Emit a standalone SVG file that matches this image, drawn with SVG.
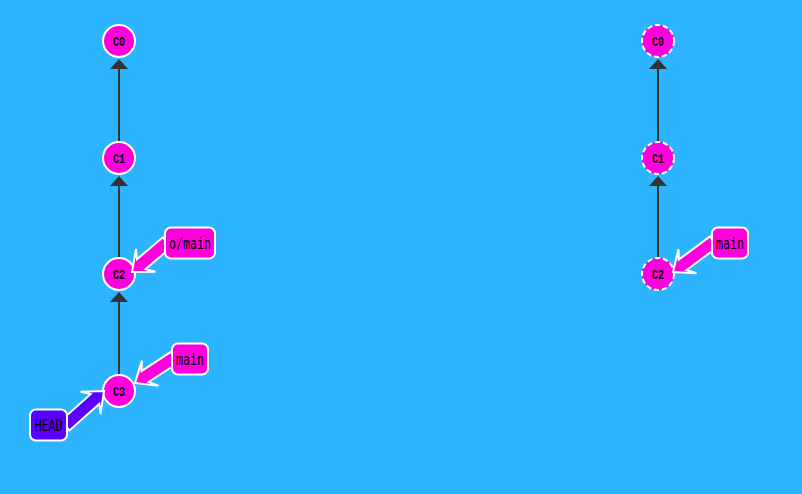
<svg xmlns="http://www.w3.org/2000/svg" width="802" height="494" viewBox="0 0 802 494">
<style>
.edge{stroke:#333;stroke-width:2;fill:none}
.head{fill:#333}
.commit{fill:#ff00dd;stroke:#fff;stroke-width:2}
.ghost{fill:#ff00dd;stroke:#fff;stroke-width:2;stroke-dasharray:5 3}
.ct{font-family:"Liberation Mono","DejaVu Sans Mono",monospace;font-weight:bold;font-size:12px;fill:#000;text-anchor:middle}
.br{fill:#ff00dd;stroke:#fff;stroke-width:2}
.hd{fill:#5a00ff;stroke:#fff;stroke-width:2}
.bt{font-family:"DejaVu Sans Mono","Liberation Mono",monospace;font-size:15px;fill:#000;text-anchor:middle}
</style>
<rect width="802" height="494" fill="#2cb4fe"/>
<g id="connectors">
<line class="edge" x1="119" y1="142" x2="119" y2="66"/>
<polygon class="head" points="119,59 110,69 128,69"/>
<line class="edge" x1="119" y1="258" x2="119" y2="183"/>
<polygon class="head" points="119,176 110,186 128,186"/>
<line class="edge" x1="119" y1="375" x2="119" y2="299"/>
<polygon class="head" points="119,292 110,302 128,302"/>
<line class="edge" x1="658" y1="142" x2="658" y2="66"/>
<polygon class="head" points="658,59 649,69 667,69"/>
<line class="edge" x1="658" y1="258" x2="658" y2="183"/>
<polygon class="head" points="658,176 649,186 667,186"/>
</g>
<g id="c0"><circle class="commit" cx="119" cy="41" r="16"/><text class="ct" x="119" y="45.5" textLength="12" lengthAdjust="spacingAndGlyphs">C0</text></g>
<g id="c1"><circle class="commit" cx="119" cy="158" r="16"/><text class="ct" x="119" y="162.5" textLength="12" lengthAdjust="spacingAndGlyphs">C1</text></g>
<g id="c2"><circle class="commit" cx="119" cy="274" r="16"/><text class="ct" x="119" y="278.5" textLength="12" lengthAdjust="spacingAndGlyphs">C2</text></g>
<g id="c3"><circle class="commit" cx="119" cy="391" r="16"/><text class="ct" x="119" y="395.5" textLength="12" lengthAdjust="spacingAndGlyphs">C3</text></g>
<g id="r-c0"><circle class="ghost" cx="658" cy="41" r="16"/><text class="ct" x="658" y="45.5" textLength="12" lengthAdjust="spacingAndGlyphs">C0</text></g>
<g id="r-c1"><circle class="ghost" cx="658" cy="158" r="16"/><text class="ct" x="658" y="162.5" textLength="12" lengthAdjust="spacingAndGlyphs">C1</text></g>
<g id="r-c2"><circle class="ghost" cx="658" cy="274" r="16"/><text class="ct" x="658" y="278.5" textLength="12" lengthAdjust="spacingAndGlyphs">C2</text></g>
<g id="omain">
<polygon class="br" transform="translate(132,272) rotate(139.7)" points="-46,-6.5 -12,-6.5 -18,-15 0,0 -18,15 -12,6.5 -46,6.5"/>
<rect class="br" x="165" y="227.5" width="50" height="31" rx="6"/>
<text class="bt" x="190" y="248.5" textLength="42" lengthAdjust="spacingAndGlyphs">o/main</text>
</g>
<g id="main">
<polygon class="br" transform="translate(135,383) rotate(147)" points="-47,-6.5 -12,-6.5 -18,-15 0,0 -18,15 -12,6.5 -47,6.5"/>
<rect class="br" x="172" y="343.5" width="36" height="31" rx="6"/>
<text class="bt" x="190" y="364.5" textLength="28" lengthAdjust="spacingAndGlyphs">main</text>
</g>
<g id="head">
<polygon class="hd" transform="translate(104,391) rotate(-41.7)" points="-52,-6.5 -12,-6.5 -18,-15 0,0 -18,15 -12,6.5 -52,6.5"/>
<rect class="hd" x="30" y="409.5" width="37" height="31" rx="6"/>
<text class="bt" x="48.5" y="430.5" textLength="28" lengthAdjust="spacingAndGlyphs">HEAD</text>
</g>
<g id="r-main">
<polygon class="br" transform="translate(673,272) rotate(143.4)" points="-51,-6.5 -12,-6.5 -18,-15 0,0 -18,15 -12,6.5 -51,6.5"/>
<rect class="br" x="712" y="227.5" width="36" height="31" rx="6"/>
<text class="bt" x="730" y="248.5" textLength="28" lengthAdjust="spacingAndGlyphs">main</text>
</g>
</svg>
